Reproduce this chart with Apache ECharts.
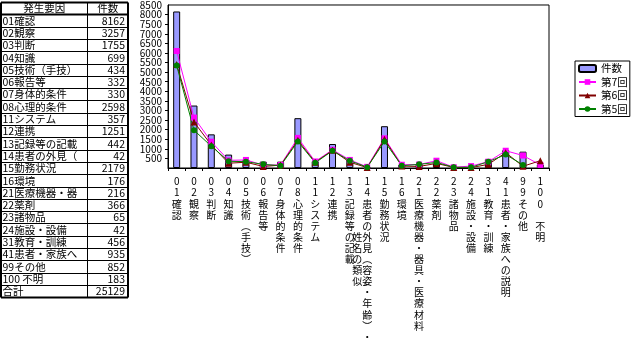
<!DOCTYPE html>
<html><head><meta charset="utf-8">
<script src="https://cdn.jsdelivr.net/npm/echarts@6/dist/echarts.min.js"></script>
<style>html,body{margin:0;padding:0;background:#fff}#c{width:631px;height:343px}</style>
</head><body><div id="c"></div>
<script>
// ---- data ----
const categories = ['01確認','02観察','03判断','04知識','05技術（手技）','06報告等','07身体的条件','08心理的条件','11システム','12連携','13記録等の記載','14患者の外見（容姿・年齢）・姓名の類似','15勤務状況','16環境','21医療機器・器具・医療材料','22薬剤','23諸物品','24施設・設備','31教育・訓練','41患者・家族への説明','99その他','100 不明'];
const counts = [8162,3257,1755,699,434,332,330,2598,357,1251,442,42,2179,176,216,366,65,42,456,935,852,183];
const round7 = [6100,2630,1370,400,420,150,160,1570,340,950,420,60,1550,170,180,380,40,100,330,900,650,160];
const round6 = [5400,2400,1200,250,300,80,150,1450,300,920,300,20,1500,100,80,240,30,20,190,800,90,380];
const round5 = [5350,1970,1140,350,330,190,120,1380,270,900,380,40,1380,120,190,290,40,35,330,700,160,null];
const seriesNames = ['件数','第7回','第6回','第5回'];
const tableHeader = ['発生要因','件数'];
const totalLabel = '合計';
const yMin = 0, yMax = 8500, yStep = 500;

// ---- helpers ----
const FONT = '"Noto Sans CJK JP", sans-serif';
const VMAP = {'（':'︵','）':'︶'};
const MAXROWS = 15;
function colParts(s){ const a = Array.from(s).map(c => VMAP[c] || c); return [a.slice(0, MAXROWS), a.slice(MAXROWS)]; }
function vert(arr){ return arr.join('\n'); }

const LH = 11.1;
// ---- table graphics ----
const T = 2, RH = 12.3, X0 = 1, XD = 87.5, X1 = 128;
const rows = [[tableHeader[0], tableHeader[1], true]];
categories.forEach((c, i) => rows.push([c, String(counts[i]), false]));
rows.push([totalLabel, String(counts.reduce((a, b) => a + b, 0)), false]);
const graphics = [];
const yb = i => Math.round(T + i * RH) + 0.5;
for (let i = 0; i <= rows.length; i++) {
  graphics.push({type:'line', shape:{x1:X0, y1:yb(i), x2:X1, y2:yb(i)}, style:{stroke:'#000', lineWidth:(i===0||i===1||i===rows.length)?2:1}, silent:true});
}
graphics.push({type:'line', shape:{x1:X0, y1:yb(0), x2:X0, y2:yb(rows.length)}, style:{stroke:'#000', lineWidth:2}, silent:true});
graphics.push({type:'line', shape:{x1:XD, y1:yb(0), x2:XD, y2:yb(rows.length)}, style:{stroke:'#000', lineWidth:1}, silent:true});
graphics.push({type:'line', shape:{x1:X1, y1:yb(0), x2:X1, y2:yb(rows.length)}, style:{stroke:'#000', lineWidth:2}, silent:true});
rows.forEach((r, i) => {
  const cy = (yb(i) + yb(i + 1)) / 2;
  const hdr = r[2];
  graphics.push({type:'text', x: hdr ? (X0 + XD) / 2 : 2.5, y: cy, silent:true,
    style:{text:r[0], fill:'#000', font:'10.5px ' + FONT, align: hdr ? 'center' : 'left', verticalAlign:'middle', width: 84.5, overflow:'truncate', ellipsis:''}});
  graphics.push({type:'text', x: hdr ? (XD + X1) / 2 : X1 - 3, y: cy, silent:true,
    style:{text:r[1], fill:'#000', font:'10.5px ' + FONT, align: hdr ? 'center' : 'right', verticalAlign:'middle'}});
});

const chart = echarts.init(document.getElementById('c'), null, {renderer:'canvas'});
const labelBase = {color:'#000', fontFamily:FONT, fontSize:10, lineHeight:LH, interval:0, verticalAlign:'top', align:'center'};
const yLabel = {color:'#000', fontFamily:FONT, fontSize:10, margin:6, formatter:v => String(v)};
chart.setOption({
  animation:false,
  backgroundColor:'#fff',
  grid:{left:168, top:4, right:82, bottom:175, show:true, borderColor:'#000', borderWidth:1, backgroundColor:'transparent'},
  legend:{orient:'vertical', left:575, top:61, data:seriesNames, itemWidth:17, itemHeight:7, itemGap:1.5,
    padding:[1.5,2,1.5,3], borderColor:'#000', borderWidth:1, backgroundColor:'#fff',
    textStyle:{color:'#000', fontFamily:FONT, fontSize:10.5, lineHeight:12}},
  xAxis:[
    {type:'category', data:categories, boundaryGap:true,
     axisLine:{lineStyle:{color:'#000', width:1}},
     axisTick:{show:true, interval:0, length:3, lineStyle:{color:'#000'}},
     axisLabel:Object.assign({}, labelBase, {margin:8, formatter:v => vert(colParts(v)[0])})},
    {type:'category', data:categories, boundaryGap:true, position:'bottom',
     axisLine:{show:false}, axisTick:{show:false},
     axisLabel:Object.assign({}, labelBase, {margin:8 + 5 * LH, padding:[0,20,0,0], formatter:v => vert(colParts(v)[1])})}
  ],
  yAxis:[
    {type:'value', min:yMin, max:yMax, interval:yStep, position:'left',
     axisLine:{show:true, lineStyle:{color:'#000'}},
     axisTick:{show:true, length:3, lineStyle:{color:'#000'}},
     splitLine:{show:false},
     axisLabel:Object.assign({}, yLabel, {showMaxLabel:false})},
    {type:'value', min:yMin, max:yMax, interval:yMax - yMin, position:'left', offset:0,
     axisLine:{show:false}, axisTick:{show:false}, splitLine:{show:false},
     axisLabel:Object.assign({}, yLabel, {showMinLabel:false, showMaxLabel:true})}
  ],
  series:[
    {name:seriesNames[0], type:'bar', data:counts, barWidth:7,
     itemStyle:{color:'#9999FF', borderColor:'#000', borderWidth:1}},
    {name:seriesNames[1], type:'line', data:round7, symbol:'rect', symbolSize:6,
     itemStyle:{color:'#FF00FF'}, lineStyle:{color:'#FF00FF', width:1}},
    {name:seriesNames[2], type:'line', data:round6, symbol:'triangle', symbolSize:7,
     itemStyle:{color:'#800000'}, lineStyle:{color:'#800000', width:1}},
    {name:seriesNames[3], type:'line', data:round5, symbol:'circle', symbolSize:6,
     itemStyle:{color:'#008000'}, lineStyle:{color:'#008000', width:1}}
  ],
  graphic:graphics
});
</script></body></html>
